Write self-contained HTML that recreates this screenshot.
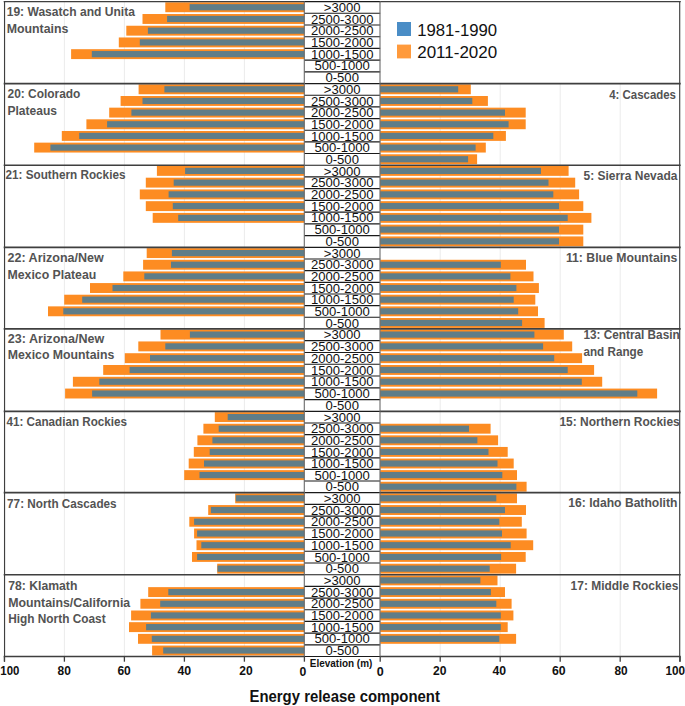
<!DOCTYPE html><html><head><meta charset="utf-8"><style>
html,body{margin:0;padding:0;background:#fff;}
svg{display:block;font-family:"Liberation Sans",sans-serif;}
</style></head><body>
<svg width="685" height="706" viewBox="0 0 685 706">
<rect x="0" y="0" width="685" height="706" fill="#fff"/>
<line x1="64.4" y1="1.55" x2="64.4" y2="656.5" stroke="#ebebeb" stroke-width="1"/>
<line x1="440.2" y1="83.6" x2="440.2" y2="656.5" stroke="#ebebeb" stroke-width="1"/>
<line x1="124.4" y1="1.55" x2="124.4" y2="656.5" stroke="#ebebeb" stroke-width="1"/>
<line x1="500.2" y1="83.6" x2="500.2" y2="656.5" stroke="#ebebeb" stroke-width="1"/>
<line x1="184.4" y1="1.55" x2="184.4" y2="656.5" stroke="#ebebeb" stroke-width="1"/>
<line x1="560.2" y1="83.6" x2="560.2" y2="656.5" stroke="#ebebeb" stroke-width="1"/>
<line x1="244.4" y1="1.55" x2="244.4" y2="656.5" stroke="#ebebeb" stroke-width="1"/>
<line x1="620.2" y1="83.6" x2="620.2" y2="656.5" stroke="#ebebeb" stroke-width="1"/>
<rect x="165.3" y="2.3" width="138.9" height="9.9" fill="#fd8c22"/>
<rect x="189.6" y="4.15" width="114.6" height="6.2" fill="#5f7d88"/>
<rect x="142.5" y="14.02" width="161.7" height="9.9" fill="#fd8c22"/>
<rect x="167.1" y="15.87" width="137.1" height="6.2" fill="#5f7d88"/>
<rect x="126.3" y="25.74" width="177.9" height="9.9" fill="#fd8c22"/>
<rect x="147.9" y="27.59" width="156.3" height="6.2" fill="#5f7d88"/>
<rect x="118.8" y="37.46" width="185.4" height="9.9" fill="#fd8c22"/>
<rect x="139.8" y="39.31" width="164.4" height="6.2" fill="#5f7d88"/>
<rect x="71.1" y="49.19" width="233.1" height="9.9" fill="#fd8c22"/>
<rect x="91.8" y="51.04" width="212.4" height="6.2" fill="#5f7d88"/>
<rect x="138.6" y="84.35" width="165.6" height="9.9" fill="#fd8c22"/>
<rect x="164.4" y="86.2" width="139.8" height="6.2" fill="#5f7d88"/>
<rect x="380.2" y="84.35" width="90.6" height="9.9" fill="#fd8c22"/>
<rect x="380.2" y="86.2" width="78" height="6.2" fill="#5f7d88"/>
<rect x="120.6" y="96.01" width="183.6" height="9.9" fill="#fd8c22"/>
<rect x="142.5" y="97.86" width="161.7" height="6.2" fill="#5f7d88"/>
<rect x="380.2" y="96.01" width="107.7" height="9.9" fill="#fd8c22"/>
<rect x="380.2" y="97.86" width="92.1" height="6.2" fill="#5f7d88"/>
<rect x="109.2" y="107.66" width="195" height="9.9" fill="#fd8c22"/>
<rect x="131.4" y="109.51" width="172.8" height="6.2" fill="#5f7d88"/>
<rect x="380.2" y="107.66" width="145.5" height="9.9" fill="#fd8c22"/>
<rect x="380.2" y="109.51" width="124.8" height="6.2" fill="#5f7d88"/>
<rect x="86.4" y="119.32" width="217.8" height="9.9" fill="#fd8c22"/>
<rect x="107.1" y="121.17" width="197.1" height="6.2" fill="#5f7d88"/>
<rect x="380.2" y="119.32" width="145.5" height="9.9" fill="#fd8c22"/>
<rect x="380.2" y="121.17" width="128.4" height="6.2" fill="#5f7d88"/>
<rect x="61.8" y="130.98" width="242.4" height="9.9" fill="#fd8c22"/>
<rect x="79.2" y="132.83" width="225" height="6.2" fill="#5f7d88"/>
<rect x="380.2" y="130.98" width="125.7" height="9.9" fill="#fd8c22"/>
<rect x="380.2" y="132.83" width="113.1" height="6.2" fill="#5f7d88"/>
<rect x="34.2" y="142.64" width="270" height="9.9" fill="#fd8c22"/>
<rect x="50.4" y="144.49" width="253.8" height="6.2" fill="#5f7d88"/>
<rect x="380.2" y="142.64" width="105.6" height="9.9" fill="#fd8c22"/>
<rect x="380.2" y="144.49" width="95.4" height="6.2" fill="#5f7d88"/>
<rect x="380.2" y="154.29" width="96.9" height="9.9" fill="#fd8c22"/>
<rect x="380.2" y="156.14" width="87.9" height="6.2" fill="#5f7d88"/>
<rect x="156.9" y="165.95" width="147.3" height="9.9" fill="#fd8c22"/>
<rect x="185.1" y="167.8" width="119.1" height="6.2" fill="#5f7d88"/>
<rect x="380.2" y="165.95" width="188.4" height="9.9" fill="#fd8c22"/>
<rect x="380.2" y="167.8" width="160.8" height="6.2" fill="#5f7d88"/>
<rect x="145.8" y="177.69" width="158.4" height="9.9" fill="#fd8c22"/>
<rect x="173.7" y="179.54" width="130.5" height="6.2" fill="#5f7d88"/>
<rect x="380.2" y="177.69" width="195" height="9.9" fill="#fd8c22"/>
<rect x="380.2" y="179.54" width="168.3" height="6.2" fill="#5f7d88"/>
<rect x="139.8" y="189.44" width="164.4" height="9.9" fill="#fd8c22"/>
<rect x="168.6" y="191.29" width="135.6" height="6.2" fill="#5f7d88"/>
<rect x="380.2" y="189.44" width="198.9" height="9.9" fill="#fd8c22"/>
<rect x="380.2" y="191.29" width="173.1" height="6.2" fill="#5f7d88"/>
<rect x="145.8" y="201.18" width="158.4" height="9.9" fill="#fd8c22"/>
<rect x="172.8" y="203.03" width="131.4" height="6.2" fill="#5f7d88"/>
<rect x="380.2" y="201.18" width="203.1" height="9.9" fill="#fd8c22"/>
<rect x="380.2" y="203.03" width="178.8" height="6.2" fill="#5f7d88"/>
<rect x="152.7" y="212.92" width="151.5" height="9.9" fill="#fd8c22"/>
<rect x="178.2" y="214.77" width="126" height="6.2" fill="#5f7d88"/>
<rect x="380.2" y="212.92" width="211.2" height="9.9" fill="#fd8c22"/>
<rect x="380.2" y="214.77" width="187.5" height="6.2" fill="#5f7d88"/>
<rect x="380.2" y="224.66" width="203.1" height="9.9" fill="#fd8c22"/>
<rect x="380.2" y="226.51" width="178.8" height="6.2" fill="#5f7d88"/>
<rect x="380.2" y="236.41" width="203.1" height="9.9" fill="#fd8c22"/>
<rect x="380.2" y="238.26" width="178.8" height="6.2" fill="#5f7d88"/>
<rect x="146.7" y="248.15" width="157.5" height="9.9" fill="#fd8c22"/>
<rect x="171.9" y="250" width="132.3" height="6.2" fill="#5f7d88"/>
<rect x="143.1" y="259.79" width="161.1" height="9.9" fill="#fd8c22"/>
<rect x="171" y="261.64" width="133.2" height="6.2" fill="#5f7d88"/>
<rect x="380.2" y="259.79" width="145.8" height="9.9" fill="#fd8c22"/>
<rect x="380.2" y="261.64" width="120.6" height="6.2" fill="#5f7d88"/>
<rect x="123.3" y="271.44" width="180.9" height="9.9" fill="#fd8c22"/>
<rect x="144.3" y="273.29" width="159.9" height="6.2" fill="#5f7d88"/>
<rect x="380.2" y="271.44" width="153.3" height="9.9" fill="#fd8c22"/>
<rect x="380.2" y="273.29" width="130.2" height="6.2" fill="#5f7d88"/>
<rect x="90" y="283.08" width="214.2" height="9.9" fill="#fd8c22"/>
<rect x="112.5" y="284.93" width="191.7" height="6.2" fill="#5f7d88"/>
<rect x="380.2" y="283.08" width="158.7" height="9.9" fill="#fd8c22"/>
<rect x="380.2" y="284.93" width="136.2" height="6.2" fill="#5f7d88"/>
<rect x="64.2" y="294.72" width="240" height="9.9" fill="#fd8c22"/>
<rect x="82.2" y="296.57" width="222" height="6.2" fill="#5f7d88"/>
<rect x="380.2" y="294.72" width="155.1" height="9.9" fill="#fd8c22"/>
<rect x="380.2" y="296.57" width="133.5" height="6.2" fill="#5f7d88"/>
<rect x="48" y="306.36" width="256.2" height="9.9" fill="#fd8c22"/>
<rect x="63.3" y="308.21" width="240.9" height="6.2" fill="#5f7d88"/>
<rect x="380.2" y="306.36" width="157.8" height="9.9" fill="#fd8c22"/>
<rect x="380.2" y="308.21" width="138" height="6.2" fill="#5f7d88"/>
<rect x="380.2" y="318.01" width="164.4" height="9.9" fill="#fd8c22"/>
<rect x="380.2" y="319.86" width="141.9" height="6.2" fill="#5f7d88"/>
<rect x="160.5" y="329.65" width="143.7" height="9.9" fill="#fd8c22"/>
<rect x="189.9" y="331.5" width="114.3" height="6.2" fill="#5f7d88"/>
<rect x="380.2" y="329.65" width="183.6" height="9.9" fill="#fd8c22"/>
<rect x="380.2" y="331.5" width="154.2" height="6.2" fill="#5f7d88"/>
<rect x="138.3" y="341.44" width="165.9" height="9.9" fill="#fd8c22"/>
<rect x="165.3" y="343.29" width="138.9" height="6.2" fill="#5f7d88"/>
<rect x="380.2" y="341.44" width="192" height="9.9" fill="#fd8c22"/>
<rect x="380.2" y="343.29" width="162.9" height="6.2" fill="#5f7d88"/>
<rect x="124.8" y="353.22" width="179.4" height="9.9" fill="#fd8c22"/>
<rect x="150" y="355.07" width="154.2" height="6.2" fill="#5f7d88"/>
<rect x="380.2" y="353.22" width="201.9" height="9.9" fill="#fd8c22"/>
<rect x="380.2" y="355.07" width="174" height="6.2" fill="#5f7d88"/>
<rect x="103.2" y="365.01" width="201" height="9.9" fill="#fd8c22"/>
<rect x="129.6" y="366.86" width="174.6" height="6.2" fill="#5f7d88"/>
<rect x="380.2" y="365.01" width="213.9" height="9.9" fill="#fd8c22"/>
<rect x="380.2" y="366.86" width="187.5" height="6.2" fill="#5f7d88"/>
<rect x="72.9" y="376.79" width="231.3" height="9.9" fill="#fd8c22"/>
<rect x="99.3" y="378.64" width="204.9" height="6.2" fill="#5f7d88"/>
<rect x="380.2" y="376.79" width="222" height="9.9" fill="#fd8c22"/>
<rect x="380.2" y="378.64" width="201.6" height="6.2" fill="#5f7d88"/>
<rect x="65.1" y="388.58" width="239.1" height="9.9" fill="#fd8c22"/>
<rect x="92.1" y="390.43" width="212.1" height="6.2" fill="#5f7d88"/>
<rect x="380.2" y="388.58" width="276.9" height="9.9" fill="#fd8c22"/>
<rect x="380.2" y="390.43" width="257.1" height="6.2" fill="#5f7d88"/>
<rect x="214.8" y="412.15" width="89.4" height="9.9" fill="#fd8c22"/>
<rect x="227.7" y="414" width="76.5" height="6.2" fill="#5f7d88"/>
<rect x="203.4" y="423.75" width="100.8" height="9.9" fill="#fd8c22"/>
<rect x="218.7" y="425.6" width="85.5" height="6.2" fill="#5f7d88"/>
<rect x="380.2" y="423.75" width="110.4" height="9.9" fill="#fd8c22"/>
<rect x="380.2" y="425.6" width="88.8" height="6.2" fill="#5f7d88"/>
<rect x="197.4" y="435.35" width="106.8" height="9.9" fill="#fd8c22"/>
<rect x="212.4" y="437.2" width="91.8" height="6.2" fill="#5f7d88"/>
<rect x="380.2" y="435.35" width="117.9" height="9.9" fill="#fd8c22"/>
<rect x="380.2" y="437.2" width="97.2" height="6.2" fill="#5f7d88"/>
<rect x="193.8" y="446.95" width="110.4" height="9.9" fill="#fd8c22"/>
<rect x="209.7" y="448.8" width="94.5" height="6.2" fill="#5f7d88"/>
<rect x="380.2" y="446.95" width="127.5" height="9.9" fill="#fd8c22"/>
<rect x="380.2" y="448.8" width="108.3" height="6.2" fill="#5f7d88"/>
<rect x="188.7" y="458.55" width="115.5" height="9.9" fill="#fd8c22"/>
<rect x="204" y="460.4" width="100.2" height="6.2" fill="#5f7d88"/>
<rect x="380.2" y="458.55" width="133.5" height="9.9" fill="#fd8c22"/>
<rect x="380.2" y="460.4" width="117.3" height="6.2" fill="#5f7d88"/>
<rect x="184.2" y="470.15" width="120" height="9.9" fill="#fd8c22"/>
<rect x="199.5" y="472" width="104.7" height="6.2" fill="#5f7d88"/>
<rect x="380.2" y="470.15" width="136.8" height="9.9" fill="#fd8c22"/>
<rect x="380.2" y="472" width="122.1" height="6.2" fill="#5f7d88"/>
<rect x="380.2" y="481.75" width="146.4" height="9.9" fill="#fd8c22"/>
<rect x="380.2" y="483.6" width="136.2" height="6.2" fill="#5f7d88"/>
<rect x="235.2" y="493.35" width="69" height="9.9" fill="#fd8c22"/>
<rect x="235.8" y="495.2" width="68.4" height="6.2" fill="#5f7d88"/>
<rect x="380.2" y="493.35" width="136.8" height="9.9" fill="#fd8c22"/>
<rect x="380.2" y="495.2" width="116.1" height="6.2" fill="#5f7d88"/>
<rect x="208.2" y="505.08" width="96" height="9.9" fill="#fd8c22"/>
<rect x="210.9" y="506.93" width="93.3" height="6.2" fill="#5f7d88"/>
<rect x="380.2" y="505.08" width="145.8" height="9.9" fill="#fd8c22"/>
<rect x="380.2" y="506.93" width="124.8" height="6.2" fill="#5f7d88"/>
<rect x="189.3" y="516.81" width="114.9" height="9.9" fill="#fd8c22"/>
<rect x="194.1" y="518.66" width="110.1" height="6.2" fill="#5f7d88"/>
<rect x="380.2" y="516.81" width="141.6" height="9.9" fill="#fd8c22"/>
<rect x="380.2" y="518.66" width="119.1" height="6.2" fill="#5f7d88"/>
<rect x="194.1" y="528.54" width="110.1" height="9.9" fill="#fd8c22"/>
<rect x="197.1" y="530.39" width="107.1" height="6.2" fill="#5f7d88"/>
<rect x="380.2" y="528.54" width="146.4" height="9.9" fill="#fd8c22"/>
<rect x="380.2" y="530.39" width="121.8" height="6.2" fill="#5f7d88"/>
<rect x="196.5" y="540.26" width="107.7" height="9.9" fill="#fd8c22"/>
<rect x="201.3" y="542.11" width="102.9" height="6.2" fill="#5f7d88"/>
<rect x="380.2" y="540.26" width="153" height="9.9" fill="#fd8c22"/>
<rect x="380.2" y="542.11" width="130.5" height="6.2" fill="#5f7d88"/>
<rect x="192" y="551.99" width="112.2" height="9.9" fill="#fd8c22"/>
<rect x="197.1" y="553.84" width="107.1" height="6.2" fill="#5f7d88"/>
<rect x="380.2" y="551.99" width="145.5" height="9.9" fill="#fd8c22"/>
<rect x="380.2" y="553.84" width="120.9" height="6.2" fill="#5f7d88"/>
<rect x="217.2" y="563.72" width="87" height="9.9" fill="#fd8c22"/>
<rect x="217.5" y="565.57" width="86.7" height="6.2" fill="#5f7d88"/>
<rect x="380.2" y="563.72" width="135.9" height="9.9" fill="#fd8c22"/>
<rect x="380.2" y="565.57" width="109.5" height="6.2" fill="#5f7d88"/>
<rect x="380.2" y="575.45" width="117.3" height="9.9" fill="#fd8c22"/>
<rect x="380.2" y="577.3" width="100.2" height="6.2" fill="#5f7d88"/>
<rect x="148.2" y="587.14" width="156" height="9.9" fill="#fd8c22"/>
<rect x="168.3" y="588.99" width="135.9" height="6.2" fill="#5f7d88"/>
<rect x="380.2" y="587.14" width="124.8" height="9.9" fill="#fd8c22"/>
<rect x="380.2" y="588.99" width="110.7" height="6.2" fill="#5f7d88"/>
<rect x="140.4" y="598.82" width="163.8" height="9.9" fill="#fd8c22"/>
<rect x="160.2" y="600.67" width="144" height="6.2" fill="#5f7d88"/>
<rect x="380.2" y="598.82" width="131.4" height="9.9" fill="#fd8c22"/>
<rect x="380.2" y="600.67" width="116.1" height="6.2" fill="#5f7d88"/>
<rect x="131.1" y="610.51" width="173.1" height="9.9" fill="#fd8c22"/>
<rect x="150.9" y="612.36" width="153.3" height="6.2" fill="#5f7d88"/>
<rect x="380.2" y="610.51" width="133.2" height="9.9" fill="#fd8c22"/>
<rect x="380.2" y="612.36" width="120.6" height="6.2" fill="#5f7d88"/>
<rect x="129" y="622.19" width="175.2" height="9.9" fill="#fd8c22"/>
<rect x="146.1" y="624.04" width="158.1" height="6.2" fill="#5f7d88"/>
<rect x="380.2" y="622.19" width="127.5" height="9.9" fill="#fd8c22"/>
<rect x="380.2" y="624.04" width="120.6" height="6.2" fill="#5f7d88"/>
<rect x="138" y="633.88" width="166.2" height="9.9" fill="#fd8c22"/>
<rect x="151.8" y="635.73" width="152.4" height="6.2" fill="#5f7d88"/>
<rect x="380.2" y="633.88" width="135.9" height="9.9" fill="#fd8c22"/>
<rect x="380.2" y="635.73" width="119.1" height="6.2" fill="#5f7d88"/>
<rect x="152.1" y="645.56" width="152.1" height="9.9" fill="#fd8c22"/>
<rect x="163.2" y="647.41" width="141" height="6.2" fill="#5f7d88"/>
<text x="342.2" y="11.85" font-size="13.1" text-anchor="middle" fill="#111">&gt;3000</text>
<line x1="304.2" y1="1.55" x2="380.2" y2="1.55" stroke="#1a1a1a" stroke-width="1.15"/>
<text x="342.2" y="23.57" font-size="13.1" text-anchor="middle" fill="#111">2500-3000</text>
<line x1="304.2" y1="13.27" x2="380.2" y2="13.27" stroke="#1a1a1a" stroke-width="1.15"/>
<text x="342.2" y="35.29" font-size="13.1" text-anchor="middle" fill="#111">2000-2500</text>
<line x1="304.2" y1="24.99" x2="380.2" y2="24.99" stroke="#1a1a1a" stroke-width="1.15"/>
<text x="342.2" y="47.01" font-size="13.1" text-anchor="middle" fill="#111">1500-2000</text>
<line x1="304.2" y1="36.71" x2="380.2" y2="36.71" stroke="#1a1a1a" stroke-width="1.15"/>
<text x="342.2" y="58.74" font-size="13.1" text-anchor="middle" fill="#111">1000-1500</text>
<line x1="304.2" y1="48.44" x2="380.2" y2="48.44" stroke="#1a1a1a" stroke-width="1.15"/>
<text x="342.2" y="70.46" font-size="13.1" text-anchor="middle" fill="#111">500-1000</text>
<line x1="304.2" y1="60.16" x2="380.2" y2="60.16" stroke="#1a1a1a" stroke-width="1.15"/>
<text x="342.2" y="82.18" font-size="13.1" text-anchor="middle" fill="#111">0-500</text>
<line x1="304.2" y1="71.88" x2="380.2" y2="71.88" stroke="#1a1a1a" stroke-width="1.15"/>
<text x="342.2" y="93.9" font-size="13.1" text-anchor="middle" fill="#111">&gt;3000</text>
<line x1="304.2" y1="83.6" x2="380.2" y2="83.6" stroke="#1a1a1a" stroke-width="1.15"/>
<text x="342.2" y="105.56" font-size="13.1" text-anchor="middle" fill="#111">2500-3000</text>
<line x1="304.2" y1="95.26" x2="380.2" y2="95.26" stroke="#1a1a1a" stroke-width="1.15"/>
<text x="342.2" y="117.21" font-size="13.1" text-anchor="middle" fill="#111">2000-2500</text>
<line x1="304.2" y1="106.91" x2="380.2" y2="106.91" stroke="#1a1a1a" stroke-width="1.15"/>
<text x="342.2" y="128.87" font-size="13.1" text-anchor="middle" fill="#111">1500-2000</text>
<line x1="304.2" y1="118.57" x2="380.2" y2="118.57" stroke="#1a1a1a" stroke-width="1.15"/>
<text x="342.2" y="140.53" font-size="13.1" text-anchor="middle" fill="#111">1000-1500</text>
<line x1="304.2" y1="130.23" x2="380.2" y2="130.23" stroke="#1a1a1a" stroke-width="1.15"/>
<text x="342.2" y="152.19" font-size="13.1" text-anchor="middle" fill="#111">500-1000</text>
<line x1="304.2" y1="141.89" x2="380.2" y2="141.89" stroke="#1a1a1a" stroke-width="1.15"/>
<text x="342.2" y="163.84" font-size="13.1" text-anchor="middle" fill="#111">0-500</text>
<line x1="304.2" y1="153.54" x2="380.2" y2="153.54" stroke="#1a1a1a" stroke-width="1.15"/>
<text x="342.2" y="175.5" font-size="13.1" text-anchor="middle" fill="#111">&gt;3000</text>
<line x1="304.2" y1="165.2" x2="380.2" y2="165.2" stroke="#1a1a1a" stroke-width="1.15"/>
<text x="342.2" y="187.24" font-size="13.1" text-anchor="middle" fill="#111">2500-3000</text>
<line x1="304.2" y1="176.94" x2="380.2" y2="176.94" stroke="#1a1a1a" stroke-width="1.15"/>
<text x="342.2" y="198.99" font-size="13.1" text-anchor="middle" fill="#111">2000-2500</text>
<line x1="304.2" y1="188.69" x2="380.2" y2="188.69" stroke="#1a1a1a" stroke-width="1.15"/>
<text x="342.2" y="210.73" font-size="13.1" text-anchor="middle" fill="#111">1500-2000</text>
<line x1="304.2" y1="200.43" x2="380.2" y2="200.43" stroke="#1a1a1a" stroke-width="1.15"/>
<text x="342.2" y="222.47" font-size="13.1" text-anchor="middle" fill="#111">1000-1500</text>
<line x1="304.2" y1="212.17" x2="380.2" y2="212.17" stroke="#1a1a1a" stroke-width="1.15"/>
<text x="342.2" y="234.21" font-size="13.1" text-anchor="middle" fill="#111">500-1000</text>
<line x1="304.2" y1="223.91" x2="380.2" y2="223.91" stroke="#1a1a1a" stroke-width="1.15"/>
<text x="342.2" y="245.96" font-size="13.1" text-anchor="middle" fill="#111">0-500</text>
<line x1="304.2" y1="235.66" x2="380.2" y2="235.66" stroke="#1a1a1a" stroke-width="1.15"/>
<text x="342.2" y="257.7" font-size="13.1" text-anchor="middle" fill="#111">&gt;3000</text>
<line x1="304.2" y1="247.4" x2="380.2" y2="247.4" stroke="#1a1a1a" stroke-width="1.15"/>
<text x="342.2" y="269.34" font-size="13.1" text-anchor="middle" fill="#111">2500-3000</text>
<line x1="304.2" y1="259.04" x2="380.2" y2="259.04" stroke="#1a1a1a" stroke-width="1.15"/>
<text x="342.2" y="280.99" font-size="13.1" text-anchor="middle" fill="#111">2000-2500</text>
<line x1="304.2" y1="270.69" x2="380.2" y2="270.69" stroke="#1a1a1a" stroke-width="1.15"/>
<text x="342.2" y="292.63" font-size="13.1" text-anchor="middle" fill="#111">1500-2000</text>
<line x1="304.2" y1="282.33" x2="380.2" y2="282.33" stroke="#1a1a1a" stroke-width="1.15"/>
<text x="342.2" y="304.27" font-size="13.1" text-anchor="middle" fill="#111">1000-1500</text>
<line x1="304.2" y1="293.97" x2="380.2" y2="293.97" stroke="#1a1a1a" stroke-width="1.15"/>
<text x="342.2" y="315.91" font-size="13.1" text-anchor="middle" fill="#111">500-1000</text>
<line x1="304.2" y1="305.61" x2="380.2" y2="305.61" stroke="#1a1a1a" stroke-width="1.15"/>
<text x="342.2" y="327.56" font-size="13.1" text-anchor="middle" fill="#111">0-500</text>
<line x1="304.2" y1="317.26" x2="380.2" y2="317.26" stroke="#1a1a1a" stroke-width="1.15"/>
<text x="342.2" y="339.2" font-size="13.1" text-anchor="middle" fill="#111">&gt;3000</text>
<line x1="304.2" y1="328.9" x2="380.2" y2="328.9" stroke="#1a1a1a" stroke-width="1.15"/>
<text x="342.2" y="350.99" font-size="13.1" text-anchor="middle" fill="#111">2500-3000</text>
<line x1="304.2" y1="340.69" x2="380.2" y2="340.69" stroke="#1a1a1a" stroke-width="1.15"/>
<text x="342.2" y="362.77" font-size="13.1" text-anchor="middle" fill="#111">2000-2500</text>
<line x1="304.2" y1="352.47" x2="380.2" y2="352.47" stroke="#1a1a1a" stroke-width="1.15"/>
<text x="342.2" y="374.56" font-size="13.1" text-anchor="middle" fill="#111">1500-2000</text>
<line x1="304.2" y1="364.26" x2="380.2" y2="364.26" stroke="#1a1a1a" stroke-width="1.15"/>
<text x="342.2" y="386.34" font-size="13.1" text-anchor="middle" fill="#111">1000-1500</text>
<line x1="304.2" y1="376.04" x2="380.2" y2="376.04" stroke="#1a1a1a" stroke-width="1.15"/>
<text x="342.2" y="398.13" font-size="13.1" text-anchor="middle" fill="#111">500-1000</text>
<line x1="304.2" y1="387.83" x2="380.2" y2="387.83" stroke="#1a1a1a" stroke-width="1.15"/>
<text x="342.2" y="409.91" font-size="13.1" text-anchor="middle" fill="#111">0-500</text>
<line x1="304.2" y1="399.61" x2="380.2" y2="399.61" stroke="#1a1a1a" stroke-width="1.15"/>
<text x="342.2" y="421.7" font-size="13.1" text-anchor="middle" fill="#111">&gt;3000</text>
<line x1="304.2" y1="411.4" x2="380.2" y2="411.4" stroke="#1a1a1a" stroke-width="1.15"/>
<text x="342.2" y="433.3" font-size="13.1" text-anchor="middle" fill="#111">2500-3000</text>
<line x1="304.2" y1="423" x2="380.2" y2="423" stroke="#1a1a1a" stroke-width="1.15"/>
<text x="342.2" y="444.9" font-size="13.1" text-anchor="middle" fill="#111">2000-2500</text>
<line x1="304.2" y1="434.6" x2="380.2" y2="434.6" stroke="#1a1a1a" stroke-width="1.15"/>
<text x="342.2" y="456.5" font-size="13.1" text-anchor="middle" fill="#111">1500-2000</text>
<line x1="304.2" y1="446.2" x2="380.2" y2="446.2" stroke="#1a1a1a" stroke-width="1.15"/>
<text x="342.2" y="468.1" font-size="13.1" text-anchor="middle" fill="#111">1000-1500</text>
<line x1="304.2" y1="457.8" x2="380.2" y2="457.8" stroke="#1a1a1a" stroke-width="1.15"/>
<text x="342.2" y="479.7" font-size="13.1" text-anchor="middle" fill="#111">500-1000</text>
<line x1="304.2" y1="469.4" x2="380.2" y2="469.4" stroke="#1a1a1a" stroke-width="1.15"/>
<text x="342.2" y="491.3" font-size="13.1" text-anchor="middle" fill="#111">0-500</text>
<line x1="304.2" y1="481" x2="380.2" y2="481" stroke="#1a1a1a" stroke-width="1.15"/>
<text x="342.2" y="502.9" font-size="13.1" text-anchor="middle" fill="#111">&gt;3000</text>
<line x1="304.2" y1="492.6" x2="380.2" y2="492.6" stroke="#1a1a1a" stroke-width="1.15"/>
<text x="342.2" y="514.63" font-size="13.1" text-anchor="middle" fill="#111">2500-3000</text>
<line x1="304.2" y1="504.33" x2="380.2" y2="504.33" stroke="#1a1a1a" stroke-width="1.15"/>
<text x="342.2" y="526.36" font-size="13.1" text-anchor="middle" fill="#111">2000-2500</text>
<line x1="304.2" y1="516.06" x2="380.2" y2="516.06" stroke="#1a1a1a" stroke-width="1.15"/>
<text x="342.2" y="538.09" font-size="13.1" text-anchor="middle" fill="#111">1500-2000</text>
<line x1="304.2" y1="527.79" x2="380.2" y2="527.79" stroke="#1a1a1a" stroke-width="1.15"/>
<text x="342.2" y="549.81" font-size="13.1" text-anchor="middle" fill="#111">1000-1500</text>
<line x1="304.2" y1="539.51" x2="380.2" y2="539.51" stroke="#1a1a1a" stroke-width="1.15"/>
<text x="342.2" y="561.54" font-size="13.1" text-anchor="middle" fill="#111">500-1000</text>
<line x1="304.2" y1="551.24" x2="380.2" y2="551.24" stroke="#1a1a1a" stroke-width="1.15"/>
<text x="342.2" y="573.27" font-size="13.1" text-anchor="middle" fill="#111">0-500</text>
<line x1="304.2" y1="562.97" x2="380.2" y2="562.97" stroke="#1a1a1a" stroke-width="1.15"/>
<text x="342.2" y="585" font-size="13.1" text-anchor="middle" fill="#111">&gt;3000</text>
<line x1="304.2" y1="574.7" x2="380.2" y2="574.7" stroke="#1a1a1a" stroke-width="1.15"/>
<text x="342.2" y="596.69" font-size="13.1" text-anchor="middle" fill="#111">2500-3000</text>
<line x1="304.2" y1="586.39" x2="380.2" y2="586.39" stroke="#1a1a1a" stroke-width="1.15"/>
<text x="342.2" y="608.37" font-size="13.1" text-anchor="middle" fill="#111">2000-2500</text>
<line x1="304.2" y1="598.07" x2="380.2" y2="598.07" stroke="#1a1a1a" stroke-width="1.15"/>
<text x="342.2" y="620.06" font-size="13.1" text-anchor="middle" fill="#111">1500-2000</text>
<line x1="304.2" y1="609.76" x2="380.2" y2="609.76" stroke="#1a1a1a" stroke-width="1.15"/>
<text x="342.2" y="631.74" font-size="13.1" text-anchor="middle" fill="#111">1000-1500</text>
<line x1="304.2" y1="621.44" x2="380.2" y2="621.44" stroke="#1a1a1a" stroke-width="1.15"/>
<text x="342.2" y="643.43" font-size="13.1" text-anchor="middle" fill="#111">500-1000</text>
<line x1="304.2" y1="633.13" x2="380.2" y2="633.13" stroke="#1a1a1a" stroke-width="1.15"/>
<text x="342.2" y="655.11" font-size="13.1" text-anchor="middle" fill="#111">0-500</text>
<line x1="304.2" y1="644.81" x2="380.2" y2="644.81" stroke="#1a1a1a" stroke-width="1.15"/>
<line x1="304.2" y1="656.5" x2="380.2" y2="656.5" stroke="#1a1a1a" stroke-width="1"/>
<line x1="304.3" y1="1.55" x2="304.3" y2="656.5" stroke="#6a6a6a" stroke-width="1.1"/>
<line x1="380.0" y1="1.55" x2="380.0" y2="656.5" stroke="#6a6a6a" stroke-width="1.1"/>
<line x1="3.7" y1="1.55" x2="304.2" y2="1.55" stroke="#3f3f3f" stroke-width="1.2"/>
<line x1="380.2" y1="1.55" x2="680.7" y2="1.55" stroke="#3f3f3f" stroke-width="1.2"/>
<line x1="3.7" y1="83.6" x2="304.2" y2="83.6" stroke="#3f3f3f" stroke-width="1.6"/>
<line x1="380.2" y1="83.6" x2="680.7" y2="83.6" stroke="#3f3f3f" stroke-width="1.6"/>
<line x1="3.7" y1="165.2" x2="304.2" y2="165.2" stroke="#3f3f3f" stroke-width="1.6"/>
<line x1="380.2" y1="165.2" x2="680.7" y2="165.2" stroke="#3f3f3f" stroke-width="1.6"/>
<line x1="3.7" y1="247.4" x2="304.2" y2="247.4" stroke="#3f3f3f" stroke-width="1.6"/>
<line x1="380.2" y1="247.4" x2="680.7" y2="247.4" stroke="#3f3f3f" stroke-width="1.6"/>
<line x1="3.7" y1="328.9" x2="304.2" y2="328.9" stroke="#3f3f3f" stroke-width="1.6"/>
<line x1="380.2" y1="328.9" x2="680.7" y2="328.9" stroke="#3f3f3f" stroke-width="1.6"/>
<line x1="3.7" y1="411.4" x2="304.2" y2="411.4" stroke="#3f3f3f" stroke-width="1.6"/>
<line x1="380.2" y1="411.4" x2="680.7" y2="411.4" stroke="#3f3f3f" stroke-width="1.6"/>
<line x1="3.7" y1="492.6" x2="304.2" y2="492.6" stroke="#3f3f3f" stroke-width="1.6"/>
<line x1="380.2" y1="492.6" x2="680.7" y2="492.6" stroke="#3f3f3f" stroke-width="1.6"/>
<line x1="3.7" y1="574.7" x2="304.2" y2="574.7" stroke="#3f3f3f" stroke-width="1.6"/>
<line x1="380.2" y1="574.7" x2="680.7" y2="574.7" stroke="#3f3f3f" stroke-width="1.6"/>
<line x1="3.7" y1="656.5" x2="304.2" y2="656.5" stroke="#3f3f3f" stroke-width="1.6"/>
<line x1="380.2" y1="656.5" x2="680.7" y2="656.5" stroke="#3f3f3f" stroke-width="1.6"/>
<line x1="4.55" y1="1.05" x2="4.55" y2="661.7" stroke="#3f3f3f" stroke-width="1.15"/>
<line x1="679.7" y1="1.05" x2="679.7" y2="661.7" stroke="#3f3f3f" stroke-width="1.15"/>
<line x1="4.4" y1="656.5" x2="4.4" y2="661.7" stroke="#3f3f3f" stroke-width="1.3"/>
<line x1="380.2" y1="656.5" x2="380.2" y2="661.7" stroke="#3f3f3f" stroke-width="1.3"/>
<line x1="64.4" y1="656.5" x2="64.4" y2="661.7" stroke="#3f3f3f" stroke-width="1.3"/>
<line x1="440.2" y1="656.5" x2="440.2" y2="661.7" stroke="#3f3f3f" stroke-width="1.3"/>
<line x1="124.4" y1="656.5" x2="124.4" y2="661.7" stroke="#3f3f3f" stroke-width="1.3"/>
<line x1="500.2" y1="656.5" x2="500.2" y2="661.7" stroke="#3f3f3f" stroke-width="1.3"/>
<line x1="184.4" y1="656.5" x2="184.4" y2="661.7" stroke="#3f3f3f" stroke-width="1.3"/>
<line x1="560.2" y1="656.5" x2="560.2" y2="661.7" stroke="#3f3f3f" stroke-width="1.3"/>
<line x1="244.4" y1="656.5" x2="244.4" y2="661.7" stroke="#3f3f3f" stroke-width="1.3"/>
<line x1="620.2" y1="656.5" x2="620.2" y2="661.7" stroke="#3f3f3f" stroke-width="1.3"/>
<line x1="304.4" y1="656.5" x2="304.4" y2="661.7" stroke="#3f3f3f" stroke-width="1.3"/>
<line x1="680.2" y1="656.5" x2="680.2" y2="661.7" stroke="#3f3f3f" stroke-width="1.3"/>
<text x="0.3" y="674.9" font-size="12.4" font-weight="bold" fill="#111" textLength="19.1" lengthAdjust="spacingAndGlyphs">100</text>
<text x="57.6" y="674.9" font-size="12.4" font-weight="bold" fill="#111" textLength="13.3" lengthAdjust="spacingAndGlyphs">80</text>
<text x="117.4" y="674.9" font-size="12.4" font-weight="bold" fill="#111" textLength="13.4" lengthAdjust="spacingAndGlyphs">60</text>
<text x="177.4" y="674.9" font-size="12.4" font-weight="bold" fill="#111" textLength="13.7" lengthAdjust="spacingAndGlyphs">40</text>
<text x="239.3" y="674.9" font-size="12.4" font-weight="bold" fill="#111" textLength="13.4" lengthAdjust="spacingAndGlyphs">20</text>
<text x="299.6" y="675.5" font-size="12.4" font-weight="bold" fill="#111" textLength="6.8" lengthAdjust="spacingAndGlyphs">0</text>
<text x="376.8" y="675.5" font-size="12.4" font-weight="bold" fill="#111" textLength="7" lengthAdjust="spacingAndGlyphs">0</text>
<text x="433.1" y="674.9" font-size="12.4" font-weight="bold" fill="#111" textLength="13.5" lengthAdjust="spacingAndGlyphs">20</text>
<text x="492.5" y="674.9" font-size="12.4" font-weight="bold" fill="#111" textLength="13.6" lengthAdjust="spacingAndGlyphs">40</text>
<text x="552" y="674.9" font-size="12.4" font-weight="bold" fill="#111" textLength="13.7" lengthAdjust="spacingAndGlyphs">60</text>
<text x="614.5" y="674.9" font-size="12.4" font-weight="bold" fill="#111" textLength="13.2" lengthAdjust="spacingAndGlyphs">80</text>
<text x="665.4" y="674.9" font-size="12.4" font-weight="bold" fill="#111" textLength="19.6" lengthAdjust="spacingAndGlyphs">100</text>
<text x="341.1" y="666.8" font-size="10" font-weight="bold" text-anchor="middle" fill="#111" textLength="62.5" lengthAdjust="spacingAndGlyphs">Elevation (m)</text>
<text x="344.7" y="701.9" font-size="16.0" font-weight="bold" text-anchor="middle" fill="#111" textLength="190.4" lengthAdjust="spacingAndGlyphs">Energy release component</text>
<text x="6.7" y="15.9" font-size="12.1" font-weight="bold" fill="#535353" textLength="128.2" lengthAdjust="spacingAndGlyphs">19: Wasatch and Unita</text>
<text x="6.7" y="32.7" font-size="12.1" font-weight="bold" fill="#535353" textLength="61.7" lengthAdjust="spacingAndGlyphs">Mountains</text>
<text x="7.5" y="97.7" font-size="12.1" font-weight="bold" fill="#535353" textLength="72.9" lengthAdjust="spacingAndGlyphs">20: Colorado</text>
<text x="7.5" y="114.5" font-size="12.1" font-weight="bold" fill="#535353" textLength="49.5" lengthAdjust="spacingAndGlyphs">Plateaus</text>
<text x="5.4" y="179" font-size="12.1" font-weight="bold" fill="#535353" textLength="120.1" lengthAdjust="spacingAndGlyphs">21: Southern Rockies</text>
<text x="7.5" y="262.2" font-size="12.1" font-weight="bold" fill="#535353" textLength="96.3" lengthAdjust="spacingAndGlyphs">22: Arizona/New</text>
<text x="7.5" y="278.5" font-size="12.1" font-weight="bold" fill="#535353" textLength="88.8" lengthAdjust="spacingAndGlyphs">Mexico Plateau</text>
<text x="7.8" y="342.5" font-size="12.1" font-weight="bold" fill="#535353" textLength="96.4" lengthAdjust="spacingAndGlyphs">23: Arizona/New</text>
<text x="7.8" y="359.4" font-size="12.1" font-weight="bold" fill="#535353" textLength="106.5" lengthAdjust="spacingAndGlyphs">Mexico Mountains</text>
<text x="6.4" y="425.5" font-size="12.1" font-weight="bold" fill="#535353" textLength="120.7" lengthAdjust="spacingAndGlyphs">41: Canadian Rockies</text>
<text x="7.1" y="507.9" font-size="12.1" font-weight="bold" fill="#535353" textLength="109.5" lengthAdjust="spacingAndGlyphs">77: North Cascades</text>
<text x="8.2" y="589.9" font-size="12.1" font-weight="bold" fill="#535353" textLength="69.2" lengthAdjust="spacingAndGlyphs">78: Klamath</text>
<text x="8.2" y="606.7" font-size="12.1" font-weight="bold" fill="#535353" textLength="122" lengthAdjust="spacingAndGlyphs">Mountains/California</text>
<text x="8.2" y="623.1" font-size="12.1" font-weight="bold" fill="#535353" textLength="97.4" lengthAdjust="spacingAndGlyphs">High North Coast</text>
<text x="609.2" y="98.7" font-size="12.1" font-weight="bold" fill="#535353" textLength="66.8" lengthAdjust="spacingAndGlyphs">4: Cascades</text>
<text x="583.5" y="179.7" font-size="12.1" font-weight="bold" fill="#535353" textLength="93.9" lengthAdjust="spacingAndGlyphs">5: Sierra Nevada</text>
<text x="565.9" y="261.7" font-size="12.1" font-weight="bold" fill="#535353" textLength="111.5" lengthAdjust="spacingAndGlyphs">11: Blue Mountains</text>
<text x="583.4" y="339.4" font-size="12.1" font-weight="bold" fill="#535353" textLength="96.3" lengthAdjust="spacingAndGlyphs">13: Central Basin</text>
<text x="583.4" y="355.7" font-size="12.1" font-weight="bold" fill="#535353" textLength="59.8" lengthAdjust="spacingAndGlyphs">and Range</text>
<text x="559.4" y="425.7" font-size="12.1" font-weight="bold" fill="#535353" textLength="120.3" lengthAdjust="spacingAndGlyphs">15: Northern Rockies</text>
<text x="568.3" y="507.4" font-size="12.1" font-weight="bold" fill="#535353" textLength="109.1" lengthAdjust="spacingAndGlyphs">16: Idaho Batholith</text>
<text x="570.6" y="590.4" font-size="12.1" font-weight="bold" fill="#535353" textLength="107.7" lengthAdjust="spacingAndGlyphs">17: Middle Rockies</text>
<rect x="397" y="22" width="14" height="14" fill="#4a8dc6"/>
<rect x="397" y="44.6" width="14" height="13.8" fill="#ff9a3c"/>
<text x="417.2" y="35.9" font-size="16.5" fill="#111" textLength="80" lengthAdjust="spacingAndGlyphs">1981-1990</text>
<text x="417.2" y="58.2" font-size="16.5" fill="#111" textLength="80" lengthAdjust="spacingAndGlyphs">2011-2020</text>
</svg></body></html>
